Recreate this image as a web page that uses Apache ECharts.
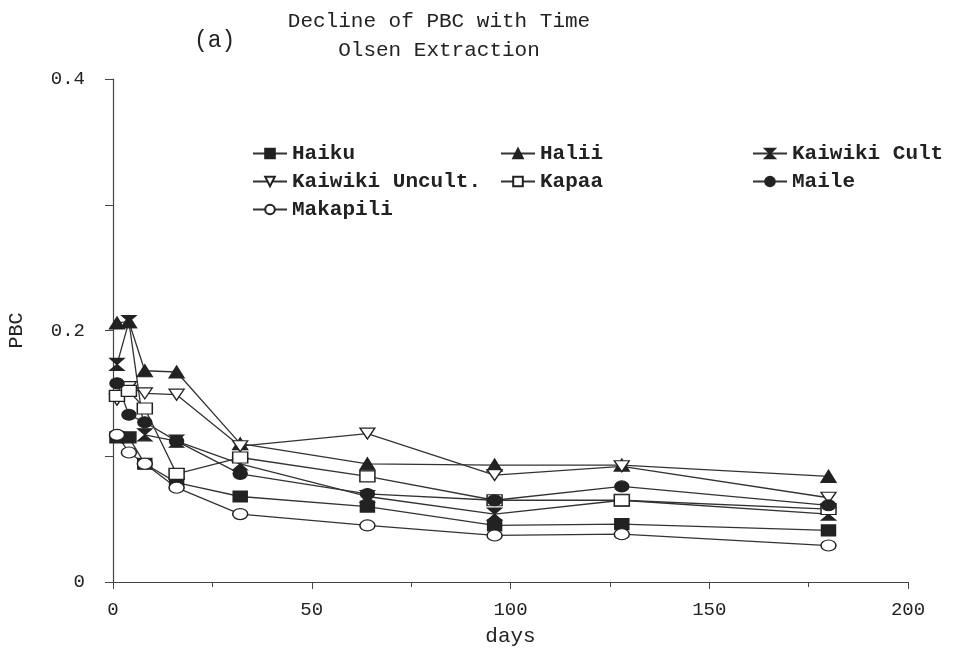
<!DOCTYPE html>
<html><head><meta charset="utf-8">
<script src="https://cdn.jsdelivr.net/npm/echarts@6/dist/echarts.min.js"></script>
<style>html,body{margin:0;padding:0;background:#fff}#c{width:953px;height:649px}</style>
</head><body><div id="c"></div>
<script>
const days = [1, 4, 8, 16, 32, 64, 96, 128, 180];
const haiku        = [0.115, 0.115, 0.094, 0.079, 0.068, 0.060, 0.045, 0.046, 0.041];
const halii        = [0.206, 0.207, 0.168, 0.167, 0.110, 0.094, 0.093, 0.093, 0.084];
const kaiwikiCult  = [0.173, 0.207, 0.117, 0.112, 0.094, 0.068, 0.054, 0.065, 0.054];
const kaiwikiUnc   = [0.145, 0.155, 0.150, 0.149, 0.108, 0.118, 0.085, 0.092, 0.067];
const kapaa        = [0.148, 0.152, 0.138, 0.086, 0.099, 0.084, 0.065, 0.065, 0.058];
const maile        = [0.158, 0.133, 0.127, 0.112, 0.086, 0.070, 0.065, 0.076, 0.061];
const makapili     = [0.117, 0.103, 0.094, 0.075, 0.054, 0.045, 0.037, 0.038, 0.029];
const names = ['Haiku','Halii','Kaiwiki Cult','Kaiwiki Uncult.','Kapaa','Maile','Makapili'];
const xTicks = [0, 50, 100, 150, 200];
const yTicks = [0, 0.2, 0.4];

const FONT = '"Liberation Mono", "DejaVu Sans Mono", monospace';
const INK = '#222';
const hourglass = 'path://M0,0 L10,0 L5,5 L10,10 L0,10 L5,5 Z';
const invTri = 'path://M0,0 L10,0 L5,9 Z';
const styles = {
  'Haiku': {symbol:'rect', size:[14,11], fill:INK},
  'Halii': {symbol:'triangle', size:[15,12], fill:INK},
  'Kaiwiki Cult': {symbol:hourglass, size:[14,12], fill:INK},
  'Kaiwiki Uncult.': {symbol:invTri, size:[15,11], fill:'#fff'},
  'Kapaa': {symbol:'rect', size:[15,11], fill:'#fff'},
  'Maile': {symbol:'circle', size:[14,11], fill:INK},
  'Makapili': {symbol:'circle', size:[15,11], fill:'#fff'}
};
const dataMap = {'Haiku':haiku,'Halii':halii,'Kaiwiki Cult':kaiwikiCult,'Kaiwiki Uncult.':kaiwikiUnc,'Kapaa':kapaa,'Maile':maile,'Makapili':makapili};

const series = names.map(n => ({
  name: n, type: 'line',
  data: days.map((d,i) => [d, dataMap[n][i]]),
  symbol: styles[n].symbol, symbolSize: styles[n].size,
  lineStyle: {color: '#333', width: 1.3},
  itemStyle: {color: styles[n].fill, borderColor: INK, borderWidth: 1.3},
  emphasis: {disabled: true},
  animation: false
}));

const legendBase = {
  orient: 'vertical', itemWidth: 34, itemHeight: 12, itemGap: 7,
  textStyle: {fontFamily: FONT, fontSize: 21, fontWeight: 'bold', color: INK}
};
const chart = echarts.init(document.getElementById('c'), null, {renderer:'canvas'});
chart.setOption({
  backgroundColor: '#fff',
  animation: false,
  title: [
    {text: 'Decline of PBC with Time\nOlsen Extraction', left: 434, top: 2, textAlign: 'center',
     textStyle: {fontFamily: FONT, fontSize: 21, fontWeight: 'normal', color: INK, lineHeight: 29}},
    {text: '(a)', left: 189, top: 24, textStyle: {fontFamily: FONT, fontSize: 23, fontWeight: 'normal', color: INK}}
  ],
  legend: [
    Object.assign({}, legendBase, {left: 247, top: 138, data: ['Haiku','Kaiwiki Uncult.','Makapili']}),
    Object.assign({}, legendBase, {left: 495, top: 138, data: ['Halii','Kapaa']}),
    Object.assign({}, legendBase, {left: 747, top: 138, data: ['Kaiwiki Cult','Maile']})
  ],
  grid: {left: 113, right: 45, top: 79, bottom: 67, containLabel: false, outerBoundsMode: 'none'},
  xAxis: {
    type: 'value', min: 0, max: 200, interval: 50,
    name: 'days', nameLocation: 'middle', nameGap: 44,
    nameTextStyle: {fontFamily: FONT, fontSize: 21, color: INK},
    axisLine: {show: true, onZero: false, lineStyle: {color: '#444', width: 1.2}},
    axisTick: {show: true, inside: false, length: 7, lineStyle: {color: '#444'}},
    minorTick: {show: true, splitNumber: 2, length: 5, lineStyle: {color: '#444'}},
    splitLine: {show: false},
    axisLabel: {fontFamily: FONT, fontSize: 19, color: INK, margin: 18,
      formatter: v => xTicks.includes(v) ? String(v) : ''}
  },
  yAxis: {
    type: 'value', min: 0, max: 0.4, interval: 0.1,
    name: 'PBC', nameLocation: 'middle', nameGap: 86, nameRotate: 90,
    nameTextStyle: {fontFamily: FONT, fontSize: 20, color: INK},
    axisLine: {show: true, onZero: false, lineStyle: {color: '#444', width: 1.2}},
    axisTick: {show: true, length: 8, lineStyle: {color: '#444'}},
    splitLine: {show: false},
    axisLabel: {fontFamily: FONT, fontSize: 19, color: INK, margin: 28,
      formatter: v => {
        const r = Math.round(v*10)/10;
        if (!yTicks.some(t => Math.abs(t - r) < 1e-9)) return '';
        return r === 0 ? '0' : r.toFixed(1);
      }}
  },
  series: series
});
</script>
</body></html>
